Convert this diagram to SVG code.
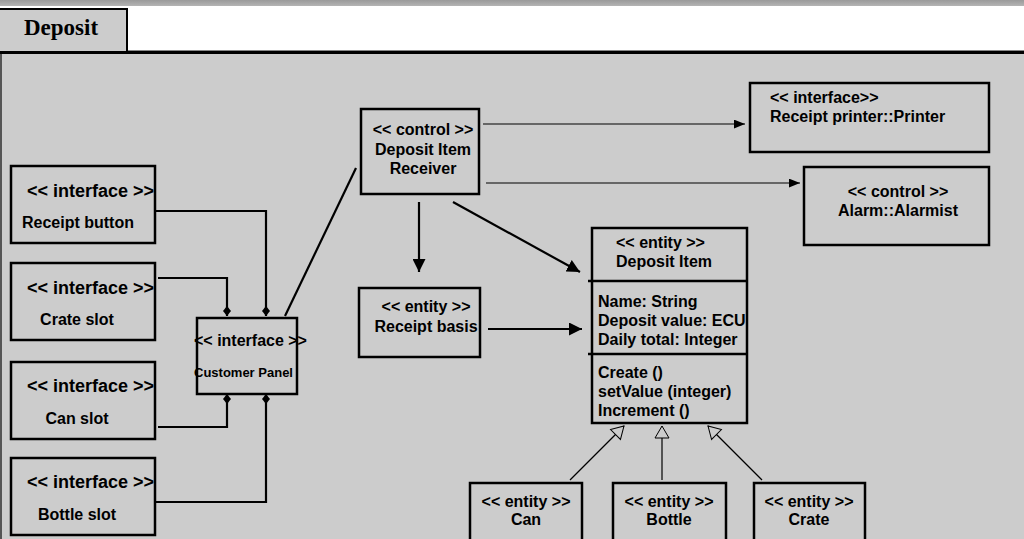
<svg xmlns="http://www.w3.org/2000/svg" width="1024" height="539" viewBox="0 0 1024 539">
  <defs>
    <linearGradient id="topbar" x1="0" y1="0" x2="0" y2="1">
      <stop offset="0" stop-color="#9a9a9a"/>
      <stop offset="1" stop-color="#b4b4b4"/>
    </linearGradient>
    <marker id="arrowThin" viewBox="0 0 10 8" refX="10" refY="4" markerWidth="11" markerHeight="9" markerUnits="userSpaceOnUse" orient="auto">
      <path d="M0,0 L10,4 L0,8 Z" fill="#000"/>
    </marker>
    <marker id="arrowBold" viewBox="0 0 12 12" refX="12" refY="6" markerWidth="13" markerHeight="13" markerUnits="userSpaceOnUse" orient="auto">
      <path d="M0,0 L12,6 L0,12 Z" fill="#000"/>
    </marker>
    <marker id="diamond" viewBox="0 0 10 8" refX="10" refY="4" markerWidth="10" markerHeight="8" markerUnits="userSpaceOnUse" orient="auto">
      <path d="M0,4 L5,0 L10,4 L5,8 Z" fill="#000"/>
    </marker>
    <marker id="hollowTri" viewBox="0 0 14 16" refX="13" refY="8" markerWidth="14" markerHeight="16" markerUnits="userSpaceOnUse" orient="auto">
      <path d="M1,1 L13,8 L1,15 Z" fill="#cccccc" stroke="#000" stroke-width="1"/>
    </marker>
  </defs>
  <style>
    .box { fill: #cccccc; stroke: #000; stroke-width: 2.5; }
    .t { font-family: "Liberation Sans", Arial, sans-serif; font-weight: bold; font-size: 16px; fill: #000; }
    .big { font-size: 18px; }
    .small { font-size: 13px; }
    .mid { text-anchor: middle; }
    .thick { stroke: #000; stroke-width: 2.2; fill: none; }
    .thin { stroke: #000; stroke-width: 1.2; fill: none; }
  </style>

  <!-- page frame -->
  <rect x="0" y="0" width="1024" height="539" fill="#cccccc"/>
  <rect x="0" y="0" width="1024" height="6" fill="url(#topbar)"/>
  <rect x="0" y="6" width="1024" height="45" fill="#ffffff"/>
  <rect x="0" y="50" width="1024" height="1" fill="#888"/>
  <rect x="0" y="51" width="1024" height="3" fill="#000"/>
  <rect x="0" y="54" width="2" height="485" fill="#555"/>

  <!-- title tab -->
  <g id="tab-deposit">
    <rect x="-2" y="9" width="129" height="43" fill="#cccccc" stroke="#000" stroke-width="2"/>
    <text x="61" y="35" text-anchor="middle" font-family="'Liberation Serif', 'Times New Roman', serif" font-weight="bold" font-size="23px">Deposit</text>
  </g>

  <!-- connectors -->
  <g id="connectors">
    <!-- slots to customer panel (composition) -->
    <polyline class="thick" points="152,211 266,211 266,316" marker-end="url(#diamond)"/>
    <polyline class="thick" points="158,278 227,278 227,316" marker-end="url(#diamond)"/>
    <polyline class="thick" points="158,427 227,427 227,394" marker-end="url(#diamond)"/>
    <polyline class="thick" points="152,502 266,502 266,394" marker-end="url(#diamond)"/>
    <!-- customer panel to receiver -->
    <line class="thick" x1="285" y1="316" x2="356" y2="168"/>
    <!-- receiver outgoing -->
    <line class="thin" x1="483" y1="124" x2="745" y2="124" marker-end="url(#arrowThin)"/>
    <line class="thin" x1="486" y1="183" x2="800" y2="183" marker-end="url(#arrowThin)"/>
    <line class="thick" x1="419" y1="202" x2="419" y2="272" marker-end="url(#arrowBold)"/>
    <line class="thick" x1="453" y1="202" x2="580" y2="272" marker-end="url(#arrowBold)"/>
    <line class="thick" x1="488" y1="329" x2="582" y2="329" marker-end="url(#arrowBold)"/>
    <!-- generalizations -->
    <line class="thin" x1="570" y1="480" x2="624" y2="426" marker-end="url(#hollowTri)"/>
    <line class="thin" x1="662" y1="480" x2="662" y2="426" marker-end="url(#hollowTri)"/>
    <line class="thin" x1="762" y1="480" x2="708" y2="426" marker-end="url(#hollowTri)"/>
  </g>

  <g id="receipt-button">
    <rect class="box" x="11" y="166" width="144" height="77"/>
    <text class="t big" x="27" y="197">&lt;&lt; interface &gt;&gt;</text>
    <text class="t" x="22" y="228">Receipt button</text>
  </g>

  <g id="crate-slot">
    <rect class="box" x="11" y="263" width="144" height="77"/>
    <text class="t big" x="27" y="294">&lt;&lt; interface &gt;&gt;</text>
    <text class="t mid" x="77" y="325">Crate slot</text>
  </g>

  <g id="can-slot">
    <rect class="box" x="11" y="362" width="144" height="77"/>
    <text class="t big" x="27" y="392">&lt;&lt; interface &gt;&gt;</text>
    <text class="t mid" x="77" y="424">Can slot</text>
  </g>

  <g id="bottle-slot">
    <rect class="box" x="11" y="458" width="144" height="77"/>
    <text class="t big" x="27" y="488">&lt;&lt; interface &gt;&gt;</text>
    <text class="t mid" x="77" y="520">Bottle slot</text>
  </g>

  <g id="customer-panel">
    <rect class="box" x="197" y="318" width="100" height="76"/>
    <text class="t" x="194" y="346">&lt;&lt; interface &gt;&gt;</text>
    <text class="t small" x="194" y="377">Customer Panel</text>
  </g>

  <g id="deposit-item-receiver">
    <rect class="box" x="361" y="109" width="118" height="85"/>
    <text class="t mid" x="423" y="135">&lt;&lt; control &gt;&gt;</text>
    <text class="t mid" x="423" y="155">Deposit Item</text>
    <text class="t mid" x="423" y="174">Receiver</text>
  </g>

  <g id="receipt-printer">
    <rect class="box" x="750" y="83" width="239" height="69"/>
    <text class="t" x="770" y="103">&lt;&lt; interface&gt;&gt;</text>
    <text class="t" x="770" y="122">Receipt printer::Printer</text>
  </g>

  <g id="alarmist">
    <rect class="box" x="804" y="167" width="185" height="78"/>
    <text class="t mid" x="898" y="197">&lt;&lt; control &gt;&gt;</text>
    <text class="t mid" x="898" y="216">Alarm::Alarmist</text>
  </g>

  <g id="receipt-basis">
    <rect class="box" x="359" y="288" width="121" height="69"/>
    <text class="t mid" x="426" y="312">&lt;&lt; entity &gt;&gt;</text>
    <text class="t mid" x="426" y="332">Receipt basis</text>
  </g>

  <g id="deposit-item">
    <rect class="box" x="592" y="228" width="155" height="195"/>
    <line x1="588" y1="281" x2="748" y2="281" stroke="#000" stroke-width="2.5"/>
    <line x1="588" y1="354" x2="748" y2="354" stroke="#000" stroke-width="2.5"/>
    <text class="t" x="616" y="248">&lt;&lt; entity &gt;&gt;</text>
    <text class="t" x="616" y="267">Deposit Item</text>
    <text class="t" x="598" y="307">Name: String</text>
    <text class="t" x="598" y="326">Deposit value: ECU</text>
    <text class="t" x="598" y="345">Daily total: Integer</text>
    <text class="t" x="598" y="378">Create ()</text>
    <text class="t" x="598" y="397">setValue (integer)</text>
    <text class="t" x="598" y="416">Increment ()</text>
  </g>

  <g id="can">
    <rect class="box" x="470" y="483" width="112" height="70"/>
    <text class="t mid" x="526" y="507">&lt;&lt; entity &gt;&gt;</text>
    <text class="t mid" x="526" y="525">Can</text>
  </g>

  <g id="bottle">
    <rect class="box" x="613" y="483" width="113" height="70"/>
    <text class="t mid" x="669" y="507">&lt;&lt; entity &gt;&gt;</text>
    <text class="t mid" x="669" y="525">Bottle</text>
  </g>

  <g id="crate">
    <rect class="box" x="754" y="483" width="111" height="70"/>
    <text class="t mid" x="809" y="507">&lt;&lt; entity &gt;&gt;</text>
    <text class="t mid" x="809" y="525">Crate</text>
  </g>
</svg>
